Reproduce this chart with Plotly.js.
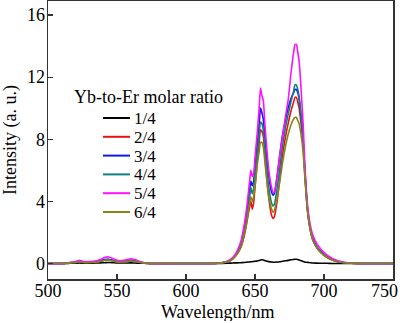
<!DOCTYPE html>
<html>
<head>
<meta charset="utf-8">
<script src="https://cdn.plot.ly/plotly-3.0.1.min.js"></script>
<style>html,body{margin:0;padding:0;background:#fff;}#chart{width:400px;height:323px;}</style>
</head>
<body>
<div id="chart"></div>
<script>
// Wavelength grid (nm)
var wavelength = [500,
  512,516,520,523,526,530,534,538,541,544,547,550,553,556,560,563,566,570,574,
  600,
  620,626,630,634,637,640,642,644,646,647,648,649,650,651,652,653,654,655,656,657,658,660,662,663,664,666,668,670,672,674,676,678,679,680,681,682,683,684,685,686,687,688,690,692,695,698,702,706,710,715,720,726,
  735,750];

var legendTitle = "Yb-to-Er molar ratio";
var seriesNames = ["1/4","2/4","3/4","4/4","5/4","6/4"];
var xTitle = "Wavelength/nm";
var yTitle = "Intensity (a. u.)";

var ratio14 = [0,
  0,0.01,0.02,0.03,0.02,0.02,0.03,0.04,0.05,0.06,0.05,0.03,0.03,0.03,0.04,0.03,0.02,0.01,0,
  0,
  0,0,0.01,0.03,0.04,0.05,0.06,0.08,0.1,0.11,0.12,0.13,0.14,0.15,0.17,0.19,0.22,0.24,0.22,0.19,0.16,0.12,0.09,0.08,0.08,0.09,0.11,0.14,0.17,0.2,0.24,0.26,0.27,0.27,0.25,0.22,0.19,0.16,0.13,0.1,0.08,0.07,0.05,0.03,0.02,0.01,0.01,0,0,0,0,0,
  0,0];

var ratio24 = [0,
  0,0.05,0.07,0.12,0.07,0.07,0.09,0.15,0.22,0.24,0.18,0.12,0.11,0.13,0.18,0.15,0.09,0.03,0,
  0,
  0,0.04,0.11,0.3,0.6,1.1,1.7,2.6,3.6,4.0,3.5,3.9,4.9,5.9,6.9,7.8,8.6,8.5,8.2,7.2,6.0,4.2,3.1,2.9,3.0,4.0,5.5,7.0,8.1,9.0,9.8,10.4,10.7,10.7,10.4,10.0,9.3,8.5,7.4,5.9,4.6,3.4,2.2,1.5,1.0,0.68,0.4,0.22,0.11,0.05,0.02,0,
  0,0];

var ratio34 = [0,
  0,0.05,0.08,0.12,0.08,0.08,0.1,0.17,0.25,0.27,0.2,0.13,0.12,0.15,0.2,0.17,0.1,0.03,0,
  0,
  0,0.04,0.13,0.35,0.7,1.3,2.1,3.2,4.6,5.3,5.0,5.3,6.2,7.1,8.0,9.0,10.0,9.7,9.3,8.3,7.3,5.6,4.6,4.4,4.5,5.6,7.0,8.3,9.2,10.0,10.6,11.0,11.2,11.2,11.0,10.6,9.8,9.0,7.8,6.2,4.8,3.6,2.3,1.6,1.05,0.75,0.45,0.25,0.13,0.05,0.02,0,
  0,0];

var ratio44 = [0,
  0,0.05,0.07,0.11,0.07,0.07,0.09,0.15,0.22,0.24,0.18,0.12,0.11,0.13,0.18,0.15,0.09,0.03,0,
  0,
  0,0.04,0.12,0.33,0.65,1.2,1.9,2.9,4.2,4.9,4.5,4.8,5.7,6.6,7.4,8.3,9.1,9.0,8.6,7.6,6.6,4.9,3.9,3.7,3.8,4.8,6.2,7.6,8.7,9.6,10.4,11.1,11.5,11.5,11.2,10.7,9.9,9.0,7.7,6.1,4.7,3.5,2.2,1.5,1.0,0.7,0.42,0.23,0.12,0.05,0.02,0,
  0,0];

var ratio54 = [0,
  0,0.08,0.12,0.2,0.12,0.12,0.15,0.25,0.38,0.42,0.32,0.2,0.18,0.22,0.3,0.25,0.15,0.05,0,
  0,
  0,0.05,0.15,0.4,0.8,1.5,2.4,3.6,5.2,6.0,5.6,5.8,6.8,7.8,8.8,10.0,11.3,10.8,10.5,9.2,8.0,6.0,4.9,4.6,4.6,5.6,7.0,8.2,9.4,10.5,12.2,13.6,14.1,14.1,13.6,13.0,11.8,10.3,8.8,6.6,5.0,3.8,2.5,1.8,1.25,0.9,0.55,0.32,0.18,0.08,0.03,0,
  0,0];

var ratio64 = [0,
  0,0.04,0.06,0.1,0.06,0.06,0.08,0.13,0.19,0.21,0.16,0.1,0.09,0.11,0.16,0.13,0.08,0.02,0,
  0,
  0,0.04,0.11,0.3,0.6,1.1,1.8,2.7,3.8,4.3,4.0,4.3,5.0,5.8,6.6,7.2,7.8,7.8,7.5,6.7,5.8,4.3,3.5,3.3,3.4,4.2,5.3,6.5,7.5,8.3,8.9,9.3,9.4,9.4,9.2,9.0,8.5,7.9,7.0,5.7,4.5,3.4,2.2,1.5,1.0,0.68,0.4,0.22,0.11,0.05,0.02,0,
  0,0];

var xTicks = [500,550,600,650,700,750];
var xTickLabels = ["500","550","600","650","700","750"];
var yTicks = [0,4,8,12,16];

var colors = ["#000000","#ee1111","#1515ee","#0f8080","#ff10ff","#85851a"];
var values = [ratio14, ratio24, ratio34, ratio44, ratio54, ratio64];

var FONT = "Liberation Serif, Times New Roman, serif";

var W = 400, H = 323;
var M = {l: 48, r: 7, t: 1, b: 44};
function px2x(p){ return (p - M.l) / (W - M.l - M.r); }
function px2y(p){ return (H - M.b - p) / (H - M.t - M.b); }

var traces = values.map(function(v, i){
  return {
    x: wavelength, y: v, type: "scatter", mode: "lines",
    name: seriesNames[i], showlegend: false,
    line: {color: colors[i], width: 1.6, shape: "spline", smoothing: 0.6}
  };
});

var shapes = [], annotations = [];
// Legend: title + line samples + labels
annotations.push({
  text: legendTitle, xref: "paper", yref: "paper",
  x: px2x(72), y: px2y(97), xanchor: "left", yanchor: "middle", showarrow: false,
  height: 18, font: {family: FONT, size: 18, color: "#000"}
});
seriesNames.forEach(function(n, i){
  var yc = 118 + i * 18.8;
  shapes.push({type: "line", xref: "paper", yref: "paper",
    x0: px2x(103), x1: px2x(130), y0: px2y(yc), y1: px2y(yc),
    line: {color: colors[i], width: 2}});
  annotations.push({text: n, xref: "paper", yref: "paper",
    x: px2x(132), y: px2y(yc), xanchor: "left", yanchor: "middle", showarrow: false,
    height: 16, font: {family: FONT, size: 17, color: "#000"}});
});
// Last x tick label, pulled inside the page edge as in the reference
annotations.push({text: xTickLabels[5], xref: "paper", yref: "paper",
  x: px2x(400), y: px2y(291), xanchor: "right", yanchor: "middle", showarrow: false,
  font: {family: FONT, size: 18, color: "#000"}});
// X axis title
annotations.push({text: xTitle, xref: "paper", yref: "paper",
  x: px2x(218), y: px2y(312), xanchor: "center", yanchor: "middle", showarrow: false,
  height: 18, font: {family: FONT, size: 18, color: "#000"}});

var axisCommon = {
  showline: true, linecolor: "#333", linewidth: 1.5, mirror: true,
  ticks: "inside", ticklen: 5, tickwidth: 1.2, tickcolor: "#333",
  showgrid: false, zeroline: false,
  tickfont: {family: FONT, size: 18, color: "#000"}
};

var layout = {
  width: W, height: H,
  margin: M,
  paper_bgcolor: "#fff", plot_bgcolor: "#fff",
  font: {family: FONT, size: 18, color: "#000"},
  xaxis: Object.assign({}, axisCommon, {
    range: [500, 750], tickmode: "array", tickvals: xTicks,
    ticktext: xTickLabels.slice(0, 5).concat([""]),
    ticklabelstandoff: -5
  }),
  yaxis: Object.assign({}, axisCommon, {
    range: [-1, 16.9], tickmode: "array", tickvals: yTicks,
    ticklabelstandoff: -2,
    title: {text: yTitle, font: {family: FONT, size: 18, color: "#000"}, standoff: 6}
  }),
  showlegend: false,
  shapes: shapes,
  annotations: annotations
};

Plotly.newPlot("chart", traces, layout, {displayModeBar: false, staticPlot: true});
</script>
</body>
</html>
